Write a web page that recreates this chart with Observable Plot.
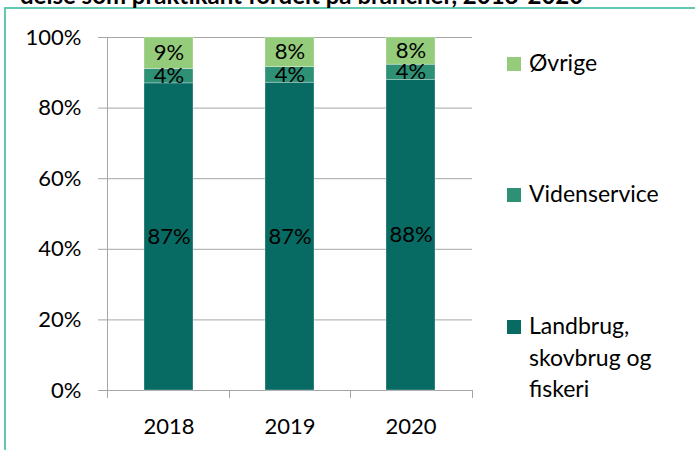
<!DOCTYPE html>
<html>
<head>
<meta charset="utf-8">
<script src="https://cdn.jsdelivr.net/npm/d3@7"></script>
<script src="https://cdn.jsdelivr.net/npm/@observablehq/plot@0.6"></script>
<style>
  html, body { margin: 0; padding: 0; background: #fff; }
  #wrap { position: relative; width: 695px; height: 450px; overflow: hidden; font-family: Lato, sans-serif; }
  #frame { position: absolute; left: 4px; top: 7px; width: 800px; height: 600px; border-left: 2px solid #62c8b1; border-top: 2px solid #62c8b1; }
  #title { position: absolute; left: 20px; top: -16px; font-weight: bold; font-size: 24px; line-height: 22px; white-space: nowrap; color: #000; }
  #chart { position: absolute; left: 0; top: 0; }
  .leg { position: absolute; left: 507px; width: 175px; font-size: 23px; line-height: 31.5px; color: #000; }
  .leg .sw { position: absolute; left: 0; width: 14px; height: 14px; }
  .leg .tx { position: absolute; left: 22px; width: 145px; }
</style>
</head>
<body>
<div id="wrap">
  <div id="frame"></div>
  <div id="title"></div>
  <div id="chart"></div>
</div>
<script>
const titleText = "delse som praktikant fordelt på brancher, 2018-2020";
const years = ["2018", "2019", "2020"];
const sectors = ["Landbrug, skovbrug og fiskeri", "Videnservice", "Øvrige"];
const landbrug = [87.0, 87.2, 87.9];
const videnservice = [4.1, 4.4, 4.4];
const ovrige = [8.9, 8.4, 7.7];
const colors = ["#076b63", "#2e9075", "#95cc7b"];
const yTicks = [0, 20, 40, 60, 80, 100];
const legendTops = [57, 188, 320]; // Øvrige, Videnservice, Landbrug square tops

const series = [landbrug, videnservice, ovrige];
const data = [];
years.forEach((yr, i) => {
  sectors.forEach((s, j) => data.push({year: yr, sector: s, value: series[j][i]}));
});

document.getElementById("title").textContent = titleText;

const plot = Plot.plot({
  width: 695,
  height: 450,
  marginLeft: 107,
  marginRight: 223,
  marginTop: 37,
  marginBottom: 60,
  style: {fontFamily: "Lato, sans-serif", fontSize: "22px", color: "#000", background: "transparent"},
  x: {domain: years, padding: 0, label: null},
  y: {domain: [0, 100], label: null},
  color: {domain: sectors, range: colors},
  marks: [
    Plot.ruleY(yTicks, {stroke: "#a6a6a6", strokeWidth: 1, insetLeft: -9}),
    Plot.barY(data, Plot.stackY({x: "year", y: "value", fill: "sector", z: "sector", insetLeft: 36, insetRight: 36, stroke: "#ffffff", strokeWidth: 0.6, strokeOpacity: 0.5})),
    Plot.text(data, Plot.stackY({x: "year", y: "value", z: "sector", text: d => Math.round(d.value) + "%", fill: "#000", fontSize: 22})),
    Plot.axisY({ticks: yTicks, tickSize: 0, tickPadding: 26, tickFormat: d => d + "%", label: null}),
    Plot.axisX({tickSize: 0, tickPadding: 28, label: null})
  ]
});

// axis line and category separator ticks, positioned from the plot's own scales
const xs = plot.scale("x"), ys = plot.scale("y");
const [r0, r1] = xs.range;
const y0 = ys.apply(0), y100 = ys.apply(100);
const g = d3.select(plot).append("g").attr("stroke", "#a6a6a6").attr("stroke-width", 1);
g.append("line").attr("x1", r0 + 0.5).attr("x2", r0 + 0.5).attr("y1", y100).attr("y2", y0);
d3.range(years.length + 1).forEach(i => {
  const x = Math.round(r0 + i * (r1 - r0) / years.length) + 0.5;
  g.append("line").attr("x1", x).attr("x2", x).attr("y1", y0).attr("y2", y0 + 8);
});

document.getElementById("chart").appendChild(plot);

// legend (top to bottom: reversed stacking order)
const wrap = document.getElementById("wrap");
sectors.slice().reverse().forEach((s, k) => {
  const idx = sectors.length - 1 - k;
  const item = document.createElement("div");
  item.className = "leg";
  item.style.top = legendTops[k] + "px";
  const sw = document.createElement("div");
  sw.className = "sw";
  sw.style.background = colors[idx];
  sw.style.top = "0px";
  const tx = document.createElement("div");
  tx.className = "tx";
  tx.style.top = "-10px";
  tx.textContent = s;
  item.appendChild(sw);
  item.appendChild(tx);
  wrap.appendChild(item);
});
</script>
</body>
</html>
